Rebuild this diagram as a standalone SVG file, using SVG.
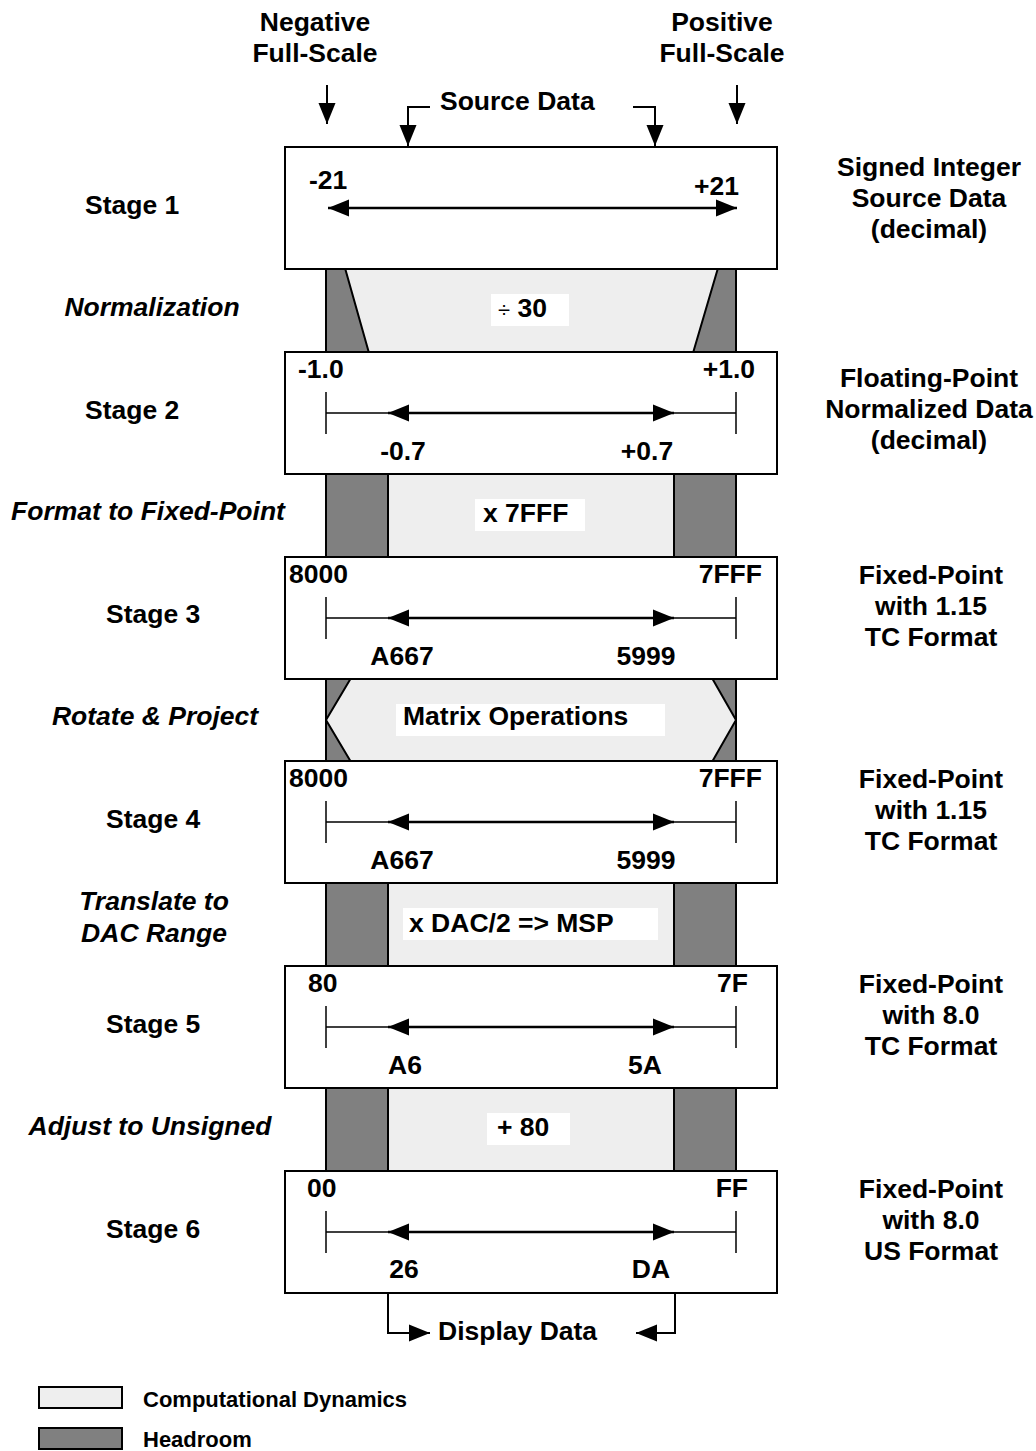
<svg xmlns="http://www.w3.org/2000/svg" width="1036" height="1451" viewBox="0 0 1036 1451">
<style>
text{font-family:"Liberation Sans",Arial,sans-serif;font-weight:bold;font-size:26.5px;fill:#000}
.it{font-style:italic}
.m{text-anchor:middle}
.e{text-anchor:end}
.lg{font-size:22px}
.box{fill:#fff;stroke:#000;stroke-width:2}
.hd{fill:#808080;stroke:#000;stroke-width:2}
.cd{fill:#eeeeee;stroke:#000;stroke-width:2}
.lbl{fill:#fff}
.ax{stroke:#000;stroke-width:1.5;fill:none}
.axi{stroke:#000;stroke-width:2.5;fill:none;marker-start:url(#ah);marker-end:url(#ah)}
.cn{stroke:#000;stroke-width:2;fill:none;marker-end:url(#ah)}
</style>
<defs>
<marker id="ah" markerUnits="userSpaceOnUse" markerWidth="22" markerHeight="18" viewBox="0 0 22 18" refX="21" refY="9" orient="auto-start-reverse">
<path d="M0,0.5 L21,9 L0,17.5 z" fill="#000"/>
</marker>
</defs>
<rect width="1036" height="1451" fill="#fff"/>

<!-- bands -->
<g id="band1">
<rect class="hd" x="326" y="268" width="410" height="85"/>
<polygon class="cd" points="345,268 718,268 693,353 369,353"/>
<rect class="lbl" x="491" y="294" width="78" height="32"/>
<text x="498" y="317"><tspan font-weight="normal" font-size="22">÷</tspan> 30</text>
</g>
<g id="band2">
<rect class="hd" x="326" y="473" width="410" height="85"/>
<rect class="cd" x="388" y="473" width="286" height="85"/>
<rect class="lbl" x="475" y="499" width="110" height="32"/>
<text x="483" y="522">x 7FFF</text>
</g>
<g id="band3">
<rect class="hd" x="326" y="678" width="410" height="84"/>
<polygon class="cd" points="351,678 712,678 736,720 712,762 351,762 326,720"/>
<rect class="lbl" x="396" y="704" width="269" height="32"/>
<text x="403" y="725">Matrix Operations</text>
</g>
<g id="band4">
<rect class="hd" x="326" y="882" width="410" height="85"/>
<rect class="cd" x="388" y="882" width="286" height="85"/>
<rect class="lbl" x="403" y="908" width="255" height="32"/>
<text x="409" y="932">x DAC/2 =&gt; MSP</text>
</g>
<g id="band5">
<rect class="hd" x="326" y="1087" width="410" height="85"/>
<rect class="cd" x="388" y="1087" width="286" height="85"/>
<rect class="lbl" x="487" y="1113" width="83" height="32"/>
<text x="497" y="1136">+ 80</text>
</g>

<!-- stage boxes -->
<g id="stage1">
<rect class="box" x="285" y="147" width="492" height="122"/>
<text x="309" y="189">-21</text>
<text class="e" x="739" y="195">+21</text>
<line class="axi" x1="328" y1="208" x2="737" y2="208"/>
</g>
<g id="stage2">
<rect class="box" x="285" y="352" width="492" height="122"/>
<text x="298" y="378">-1.0</text>
<text class="e" x="755" y="378">+1.0</text>
<path class="ax" d="M326,392 V434 M736,392 V434 M326,413 H736"/>
<line class="axi" x1="388" y1="413" x2="674" y2="413"/>
<text class="m" x="403" y="460">-0.7</text>
<text class="m" x="647" y="460">+0.7</text>
</g>
<g id="stage3">
<rect class="box" x="285" y="557" width="492" height="122"/>
<text x="289" y="583">8000</text>
<text class="e" x="762" y="583">7FFF</text>
<path class="ax" d="M326,597 V639 M736,597 V639 M326,618 H736"/>
<line class="axi" x1="388" y1="618" x2="674" y2="618"/>
<text class="m" x="402" y="665">A667</text>
<text class="m" x="646" y="665">5999</text>
</g>
<g id="stage4">
<rect class="box" x="285" y="761" width="492" height="122"/>
<text x="289" y="787">8000</text>
<text class="e" x="762" y="787">7FFF</text>
<path class="ax" d="M326,801 V843 M736,801 V843 M326,822 H736"/>
<line class="axi" x1="388" y1="822" x2="674" y2="822"/>
<text class="m" x="402" y="869">A667</text>
<text class="m" x="646" y="869">5999</text>
</g>
<g id="stage5">
<rect class="box" x="285" y="966" width="492" height="122"/>
<text x="308" y="992">80</text>
<text class="e" x="748" y="992">7F</text>
<path class="ax" d="M326,1006 V1048 M736,1006 V1048 M326,1027 H736"/>
<line class="axi" x1="388" y1="1027" x2="674" y2="1027"/>
<text class="m" x="405" y="1074">A6</text>
<text class="m" x="645" y="1074">5A</text>
</g>
<g id="stage6">
<rect class="box" x="285" y="1171" width="492" height="122"/>
<text x="307" y="1197">00</text>
<text class="e" x="748" y="1197">FF</text>
<path class="ax" d="M326,1211 V1253 M736,1211 V1253 M326,1232 H736"/>
<line class="axi" x1="388" y1="1232" x2="674" y2="1232"/>
<text class="m" x="404" y="1278">26</text>
<text class="m" x="651" y="1278">DA</text>
</g>

<!-- connectors -->
<g id="connectors">
<line class="cn" x1="327" y1="85" x2="327" y2="124"/>
<line class="cn" x1="737" y1="85" x2="737" y2="124"/>
<path class="cn" d="M430,107 H408 V146"/>
<path class="cn" d="M633,107 H655 V146"/>
<path class="cn" d="M388,1293 V1333 H430"/>
<path class="cn" d="M675,1293 V1333 H636"/>
</g>

<!-- top and bottom labels -->
<g id="top-labels">
<text class="m" x="315" y="31">Negative</text>
<text class="m" x="315" y="62">Full-Scale</text>
<text class="m" x="722" y="31">Positive</text>
<text class="m" x="722" y="62">Full-Scale</text>
<text x="440" y="110">Source Data</text>
<text x="438" y="1340">Display Data</text>
</g>

<!-- left labels -->
<g id="left-labels">
<text x="85" y="214">Stage 1</text>
<text class="it m" x="152" y="316">Normalization</text>
<text x="85" y="419">Stage 2</text>
<text class="it m" x="148" y="520">Format to Fixed-Point</text>
<text x="106" y="623">Stage 3</text>
<text class="it m" x="155" y="725">Rotate &amp; Project</text>
<text x="106" y="828">Stage 4</text>
<text class="it m" x="154" y="910">Translate to</text>
<text class="it m" x="154" y="942">DAC Range</text>
<text x="106" y="1033">Stage 5</text>
<text class="it m" x="150" y="1135">Adjust to Unsigned</text>
<text x="106" y="1238">Stage 6</text>
</g>

<!-- right labels -->
<g id="right-labels">
<text class="m" x="929" y="176">Signed Integer</text>
<text class="m" x="929" y="207">Source Data</text>
<text class="m" x="929" y="238">(decimal)</text>
<text class="m" x="929" y="387">Floating-Point</text>
<text class="m" x="929" y="418">Normalized Data</text>
<text class="m" x="929" y="449">(decimal)</text>
<text class="m" x="931" y="584">Fixed-Point</text>
<text class="m" x="931" y="615">with 1.15</text>
<text class="m" x="931" y="646">TC Format</text>
<text class="m" x="931" y="788">Fixed-Point</text>
<text class="m" x="931" y="819">with 1.15</text>
<text class="m" x="931" y="850">TC Format</text>
<text class="m" x="931" y="993">Fixed-Point</text>
<text class="m" x="931" y="1024">with 8.0</text>
<text class="m" x="931" y="1055">TC Format</text>
<text class="m" x="931" y="1198">Fixed-Point</text>
<text class="m" x="931" y="1229">with 8.0</text>
<text class="m" x="931" y="1260">US Format</text>
</g>

<!-- legend -->
<g id="legend">
<rect class="cd" x="39" y="1387" width="83" height="21"/>
<text class="lg" x="143" y="1407">Computational Dynamics</text>
<rect class="hd" x="39" y="1428" width="83" height="21"/>
<text class="lg" x="143" y="1447">Headroom</text>
</g>
</svg>
